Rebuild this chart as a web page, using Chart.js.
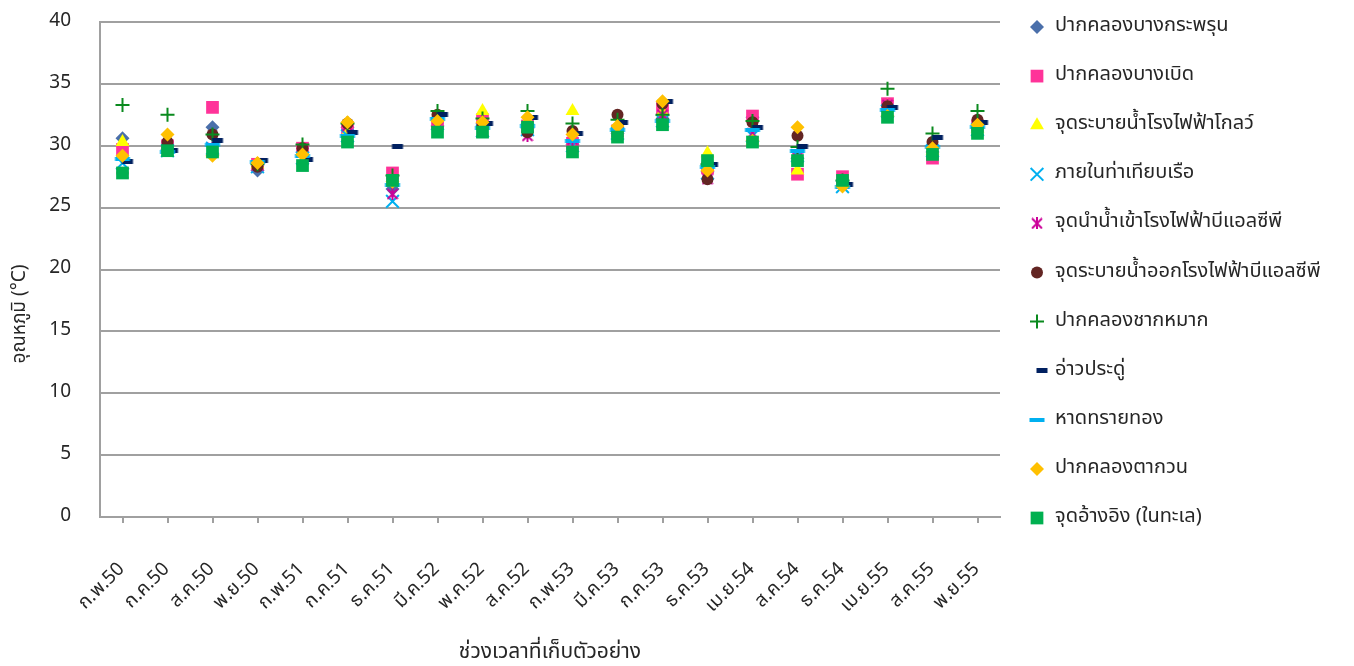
<!DOCTYPE html>
<html>
<head>
<meta charset="utf-8">
<script src="https://cdn.jsdelivr.net/npm/chart.js@4.4.1/dist/chart.umd.min.js"></script>
<style>
  html, body { margin: 0; padding: 0; background: #fff; }
  #wrap { position: relative; width: 1354px; height: 666px; }
</style>
</head>
<body>
<div id="wrap"><canvas id="chart"></canvas></div>
<script>
// Water temperature at sampling stations, Feb 2007 - Nov 2012
const categories = ['ก.พ.50', 'ก.ค.50', 'ส.ค.50', 'พ.ย.50', 'ก.พ.51', 'ก.ค.51', 'ธ.ค.51', 'มี.ค.52', 'พ.ค.52', 'ส.ค.52',
    'ก.พ.53', 'มี.ค.53', 'ก.ค.53', 'ธ.ค.53', 'เม.ย.54', 'ส.ค.54', 'ธ.ค.54', 'เม.ย.55', 'ส.ค.55', 'พ.ย.55'];

const bangKraprun  = [30.6, 29.7, 31.5, 28.0, 29.5, 31.5, 26.5, 31.6, 31.8, 31.4, 30.1, 31.0, 32.2, 27.9, 32.3, 29.0, 26.8, 33.0, 29.5, 31.5];
const bangBoet     = [29.7, 30.0, 33.1, 28.5, 29.8, 31.4, 27.8, 31.8, 32.1, 31.6, 30.2, 31.2, 33.0, 28.2, 32.4, 27.7, 27.5, 33.4, 29.0, 31.6];
const gloweOutlet  = [30.3, 29.8, 29.4, 28.5, 29.6, 31.1, 27.2, 32.3, 32.8, 32.0, 32.8, 31.5, 32.7, 29.4, 30.4, 28.0, 26.9, 33.2, 29.6, 31.4];
const harbour      = [28.6, 29.6, 29.8, 28.3, 29.0, 30.8, 25.5, 31.8, 31.2, 31.3, 30.0, 31.0, 32.0, 27.8, 30.8, 29.2, 26.7, 32.8, 29.6, 31.3];
const blcpIntake   = [27.8, 29.8, 29.8, 28.4, 29.6, 31.6, 26.1, 31.5, 31.2, 30.8, 30.5, 31.1, 32.5, 27.3, 31.0, 29.0, 27.0, 33.3, 29.4, 31.5];
const blcpOutlet   = [27.8, 30.3, 30.9, 28.3, 29.8, 31.8, 27.2, 32.5, 31.6, 31.1, 31.2, 32.5, 33.4, 27.3, 31.9, 30.8, 27.0, 33.2, 30.3, 32.1];
const chakMak      = [33.3, 32.5, 30.9, 28.5, 30.1, 31.8, 27.6, 32.8, 32.2, 32.8, 31.8, 32.1, 32.5, 28.5, 32.0, 29.9, 27.2, 34.6, 31.0, 32.8];
const aoPradu      = [28.7, 29.6, 30.4, 28.8, 28.9, 31.1, 29.9, 32.5, 31.8, 32.3, 31.0, 31.9, 33.6, 28.5, 31.5, 29.9, 26.9, 33.1, 30.7, 31.9];
const saiThong     = [28.9, 29.5, 30.1, 28.7, 29.2, 30.8, 26.8, 32.2, 31.4, 31.6, 30.4, 31.3, 32.0, 28.3, 31.3, 29.6, 26.7, 32.9, 29.9, 31.5];
const takuan       = [29.2, 30.9, 29.2, 28.6, 29.3, 31.9, 27.1, 32.0, 31.9, 32.3, 30.9, 31.6, 33.6, 28.0, 30.4, 31.5, 26.7, 32.4, 29.8, 31.7];
const reference    = [27.8, 29.6, 29.5, null, 28.4, 30.3, 27.2, 31.1, 31.1, 31.5, 29.5, 30.7, 31.7, 28.8, 30.3, 28.8, 27.2, 32.3, 29.3, 31.0];

const yTicks = { min: 0, max: 40, step: 5 };

const FONT = "'Noto Sans Thai', 'Noto Sans', 'DejaVu Sans', sans-serif";
const TEXT = '#262626';
const GRID = '#A0A0A0';

Chart.defaults.font.family = FONT;
Chart.defaults.color = TEXT;

// Excel-like markers that Chart.js has no built-in style for
function dashMarker(color, w, h, shift) {
    const c = document.createElement('canvas');
    c.width = (w + Math.abs(shift)) * 2;
    c.height = h;
    const g = c.getContext('2d');
    g.fillStyle = color;
    g.fillRect(c.width / 2 - w / 2 + shift, 0, w, h);
    return c;
}

function asteriskMarker(color, size) {
    const c = document.createElement('canvas');
    c.width = size;
    c.height = size;
    const g = c.getContext('2d');
    g.strokeStyle = color;
    g.lineWidth = 2;
    g.beginPath();
    g.moveTo(1, 1); g.lineTo(size - 1, size - 1);
    g.moveTo(size - 1, 1); g.lineTo(1, size - 1);
    g.moveTo(size / 2, 0); g.lineTo(size / 2, size);
    g.stroke();
    return c;
}

function series(label, data, style, radius, color, border) {
    return {
        label: label,
        data: data,
        showLine: false,
        pointStyle: style,
        pointRadius: radius,
        pointHoverRadius: radius,
        pointBackgroundColor: color,
        pointBorderColor: color,
        pointBorderWidth: border || 0,
        backgroundColor: color,
        borderColor: color
    };
}

const datasets = [
    series('ปากคลองบางกระพรุน', bangKraprun, 'rectRot', 7, '#4A6FAA'),
    series('ปากคลองบางเบิด', bangBoet, 'rect', 9, '#FF3399'),
    series('จุดระบายน้ำโรงไฟฟ้าโกลว์', gloweOutlet, 'triangle', 8, '#FFFF00'),
    series('ภายในท่าเทียบเรือ', harbour, 'crossRot', 9, '#00B0F0', 2),
    series('จุดนำน้ำเข้าโรงไฟฟ้าบีแอลซีพี', blcpIntake, asteriskMarker('#CC0099', 12), 6, '#CC0099'),
    series('จุดระบายน้ำออกโรงไฟฟ้าบีแอลซีพี', blcpOutlet, 'circle', 6, '#632523'),
    series('ปากคลองชากหมาก', chakMak, 'cross', 7, '#0A8A1E', 2),
    series('อ่าวประดู่', aoPradu, dashMarker('#002060', 11, 5, 5), 6, '#002060'),
    series('หาดทรายทอง', saiThong, dashMarker('#00B0F0', 15, 4, 0), 6, '#00B0F0'),
    series('ปากคลองตากวน', takuan, 'rectRot', 7, '#FFC000'),
    series('จุดอ้างอิง (ในทะเล)', reference, 'rect', 9, '#00B050')
];

// Excel paints later series on top; Chart.js paints lower order last
datasets.forEach(function (ds, i) { ds.order = datasets.length - i; });

// Legend on the right, one row per station
const sideLegend = {
    id: 'sideLegend',
    afterDraw(chart) {
        const ctx = chart.ctx;
        const x0 = chart.chartArea.right + 37;
        ctx.save();
        ctx.font = '20px ' + FONT;
        ctx.textBaseline = 'middle';
        ctx.textAlign = 'left';
        chart.data.datasets.forEach(function (ds, i) {
            const y = 27 + i * 49.1;
            ctx.fillStyle = ds.pointBackgroundColor;
            ctx.strokeStyle = ds.pointBorderColor;
            ctx.lineWidth = ds.pointBorderWidth;
            Chart.helpers.drawPoint(ctx, {
                pointStyle: ds.pointStyle,
                radius: ds.pointRadius,
                borderWidth: ds.pointBorderWidth,
                rotation: 0
            }, x0, y);
            ctx.fillStyle = TEXT;
            ctx.fillText(ds.label, x0 + 18, y);
        });
        ctx.restore();
    }
};

// trailing blanks push the rotated y title a little below the middle, as in the original
const yTitle = 'อุณหภูมิ (°C)' + '\u00A0'.repeat(18);

new Chart(document.getElementById('chart'), {
    type: 'line',
    data: { labels: categories, datasets: datasets },
    options: {
        responsive: true,
        maintainAspectRatio: false,
        animation: false,
        layout: { padding: { top: 22, right: 354, bottom: 0, left: 0 } },
        plugins: {
            legend: { display: false },
            tooltip: { enabled: true }
        },
        scales: {
            x: {
                type: 'category',
                offset: true,
                grid: { display: true, drawOnChartArea: false, drawTicks: true, tickLength: 6, color: GRID, lineWidth: 2 },
                border: { display: true, color: GRID, width: 2 },
                ticks: { autoSkip: false, minRotation: 45, maxRotation: 45, padding: 36, color: TEXT, font: { size: 19 } },
                title: { display: true, text: 'ช่วงเวลาที่เก็บตัวอย่าง', color: TEXT, font: { size: 21 }, padding: { top: 0, bottom: 0 } },
                afterFit: function (scale) { scale.height = 149; }
            },
            y: {
                min: yTicks.min,
                max: yTicks.max,
                grid: { color: GRID, lineWidth: 2, drawTicks: false },
                border: { display: true, color: GRID, width: 2 },
                ticks: { stepSize: yTicks.step, padding: 29, color: TEXT, font: { size: 19 } },
                title: { display: true, text: yTitle, color: TEXT, font: { size: 19 }, padding: { top: 10, bottom: 0 } },
                afterFit: function (scale) {
                    scale.width = 100;
                    // the wide tick padding should not push the plot down
                    scale.paddingTop = 0;
                    scale.paddingBottom = 0;
                }
            }
        }
    },
    plugins: [sideLegend]
});
</script>
</body>
</html>
